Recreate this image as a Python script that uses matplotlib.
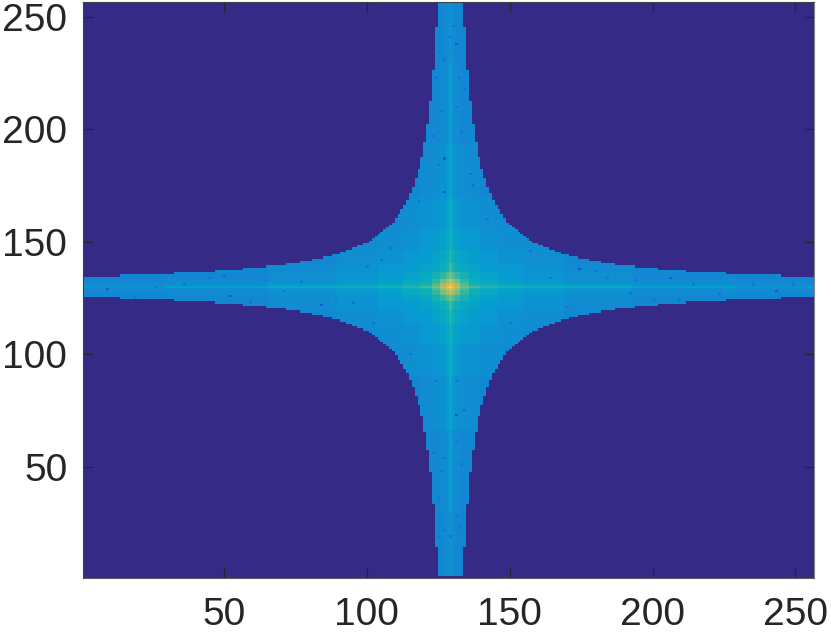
"""
Spectrum magnitude on a 256 x 256 grid: hyperbolic-cross support, parula colours.
"""
import numpy as np
import matplotlib
matplotlib.use("Agg")
import matplotlib.pyplot as plt
from matplotlib.colors import LinearSegmentedColormap

plt.rcParams.update({'font.family': ['Liberation Sans', 'DejaVu Sans']})

# parula anchors
PARULA = [
    (0.2081, 0.1663, 0.5292), (0.2116, 0.1898, 0.5777), (0.2081, 0.2386, 0.6771),
    (0.1707, 0.2919, 0.7792), (0.0591, 0.3598, 0.8683), (0.0060, 0.4086, 0.8828),
    (0.0329, 0.4430, 0.8720), (0.0629, 0.4737, 0.8554), (0.0779, 0.5040, 0.8384),
    (0.0749, 0.5375, 0.8263), (0.0488, 0.5772, 0.8228), (0.0265, 0.6137, 0.8135),
    (0.0231, 0.6418, 0.7913), (0.0267, 0.6642, 0.7607), (0.0590, 0.6838, 0.7254),
    (0.1133, 0.7015, 0.6859), (0.1801, 0.7177, 0.6424), (0.2586, 0.7317, 0.5954),
    (0.3482, 0.7424, 0.5473), (0.4420, 0.7481, 0.5033), (0.5300, 0.7491, 0.4661),
    (0.6099, 0.7473, 0.4337), (0.6834, 0.7435, 0.4044), (0.7525, 0.7384, 0.3768),
    (0.8185, 0.7327, 0.3498), (0.8824, 0.7274, 0.3217), (0.9450, 0.7261, 0.2886),
    (0.9938, 0.7455, 0.2403), (0.9955, 0.7861, 0.1967), (0.9789, 0.8271, 0.1633),
    (0.9626, 0.8705, 0.1309), (0.9598, 0.9218, 0.0948), (0.9763, 0.9831, 0.0538),
]

N_CELLS = 256
CENTRE_COL = 129
CENTRE_ROW = 130
TICKS = [50, 100, 150, 200, 250]

# how far each half width of the cross reaches along the arm (index 0 is half width 0)
ARM_REACH = [128, 128, 128, 128, 128, 115, 96, 82, 72, 64, 57, 52, 48, 44, 41, 38,
             36, 34, 32, 30, 28, 27, 26, 25, 24]

# colour level by distance from the centre, read in bands
BAND_STARTS = [0, 1, 2, 4, 7, 11, 17, 26, 40, 64, 100]
LEVELS = np.array([
    [0.92, 0.80, 0.72, 0.60, 0.53, 0.48, 0.45, 0.43, 0.40, 0.36, 0.32],
    [0.80, 0.74, 0.66, 0.55, 0.46, 0.43, 0.39, 0.36, 0.33, 0.30, 0.29],
    [0.72, 0.66, 0.60, 0.50, 0.43, 0.40, 0.36, 0.33, 0.31, 0.29, 0.28],
    [0.60, 0.55, 0.50, 0.45, 0.40, 0.37, 0.34, 0.32, 0.30, 0.28, 0.27],
    [0.53, 0.46, 0.43, 0.40, 0.37, 0.35, 0.33, 0.31, 0.29, 0.28, 0.27],
    [0.48, 0.43, 0.40, 0.37, 0.35, 0.33, 0.31, 0.30, 0.28, 0.27, 0.27],
    [0.45, 0.39, 0.36, 0.34, 0.33, 0.31, 0.30, 0.29, 0.28, 0.27, 0.27],
    [0.43, 0.36, 0.33, 0.32, 0.31, 0.30, 0.29, 0.28, 0.27, 0.27, 0.27],
    [0.40, 0.33, 0.31, 0.30, 0.29, 0.28, 0.28, 0.27, 0.27, 0.27, 0.27],
    [0.36, 0.30, 0.29, 0.28, 0.28, 0.27, 0.27, 0.27, 0.27, 0.27, 0.27],
    [0.32, 0.29, 0.28, 0.27, 0.27, 0.27, 0.27, 0.27, 0.27, 0.27, 0.27],
])

# darker single cells picked out of the picture, (col, row)
DARK_CELLS = [
    (95, 123), (100, 139), (105, 142), (108, 147), (157, 146), (164, 134), (142, 160),
    (118, 168), (137, 175), (115, 100), (131, 88), (124, 88), (102, 114), (97, 111),
    (150, 114), (153, 97), (130, 246), (19, 125), (26, 130), (36, 131), (45, 134),
    (50, 135), (59, 123), (64, 133), (71, 128), (75, 126), (77, 132), (89, 125),
    (180, 137), (184, 134), (194, 133), (200, 124), (214, 131), (223, 127), (235, 131),
    (209, 124), (192, 127), (170, 121), (249, 131), (127, 231), (124, 223), (132, 223),
    (134, 218), (126, 208), (131, 210), (133, 199), (125, 184), (136, 180), (123, 197),
    (125, 234), (129, 241), (134, 75), (125, 62), (123, 56), (131, 61), (127, 54),
    (125, 36), (132, 37), (131, 28), (127, 22), (129, 19), (132, 23), (126, 48),
    (133, 51), (125, 19),
]
VERY_DARK_CELLS = [
    (127, 172), (9, 129), (52, 126), (84, 122), (174, 138), (206, 134), (243, 128),
    (131, 238), (127, 187), (131, 73),
]

cols = np.arange(1, N_CELLS + 1)
rows = np.arange(1, N_CELLS + 1)
d_col = np.abs(cols - CENTRE_COL)
d_row = np.abs(rows - CENTRE_ROW)

# look the levels up, then blank everything outside the cross
band_col = np.digitize(d_col, BAND_STARTS) - 1
band_row = np.digitize(d_row, BAND_STARTS) - 1
grid = LEVELS[np.ix_(band_row, band_col)]

for col, row in DARK_CELLS:
    grid[row - 1, col - 1] = 0.21
for col, row in VERY_DARK_CELLS:
    grid[row - 1, col - 1] = 0.12

reach = np.array(ARM_REACH)
for i, dr in enumerate(d_row):
    for j, dc in enumerate(d_col):
        hw, dist = min(dr, dc), max(dr, dc)
        if hw >= len(reach) or dist > reach[hw]:
            grid[i, j] = 0.0

parula = LinearSegmentedColormap.from_list('parula', PARULA, N=256)

fig = plt.figure(figsize=(8.31, 6.39), dpi=100)
ax = fig.add_axes([82.5 / 831, 1 - 578 / 639, (814 - 82.5) / 831, (578 - 2) / 639])
ax.imshow(grid, cmap=parula, vmin=0, vmax=1, origin='lower', aspect='auto',
          interpolation='nearest', extent=(0.5, N_CELLS + 0.5, 0.5, N_CELLS + 0.5))

ax.set_xticks(TICKS)
ax.set_yticks(TICKS)
ax.tick_params(direction='in', length=7, width=0.8, color='#262626', labelsize=28,
               labelcolor='#262626', pad=11, top=True, right=True)
ax.tick_params(axis='x', pad=14)
for side in ax.spines.values():
    side.set_linewidth(0.8)
    side.set_color('#404040')
ax.spines['right'].set_color('#808080')
ax.spines['bottom'].set_color('#606060')

fig.savefig('out.png', dpi=100)
